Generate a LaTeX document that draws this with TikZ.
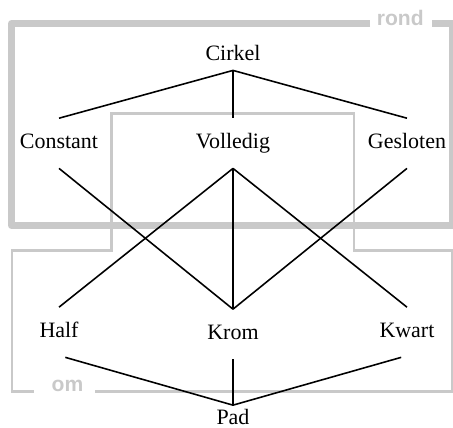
\documentclass[tikz,border=0pt]{standalone}
\usepackage{fontspec}
\setmainfont{Liberation Serif}
\newfontfamily\tagfont{Liberation Sans}
\usetikzlibrary{positioning}
\definecolor{rimgray}{gray}{0.79}

\begin{document}
\begin{tikzpicture}[
	x=0.02cm, y=-0.02cm,
	term/.style={
		font=\fontsize{12.5}{15}\selectfont,
		text height=0.29cm,
		text depth=0.1cm,
		inner xsep=1pt,
		inner ysep=0.3cm
	},
	tight/.style={
		inner ysep=0.1cm
	},
	link/.style={
		draw,
		line width=0.9pt
	},
	thickrim/.style={
		draw=rimgray,
		line width=0.14cm,
		line join=round
	},
	thinrim/.style={
		draw=rimgray,
		line width=0.055cm
	},
	tag/.style={
		font=\tagfont\bfseries\fontsize{12}{14}\selectfont,
		text=rimgray,
		anchor=base,
		inner sep=0pt
	},
	on grid,node distance=1.76cm and 3.48cm
	]
	\useasboundingbox (0,0) rectangle (453,428);
	
	% frames
	\draw[thickrim] (370,23.5) -- (11.5,23.5) -- (11.5,225.5) -- (452,225.5) -- (452,23.5) -- (432,23.5);
	\draw[thinrim] (95,391.7) -- (452.5,391.7) -- (452.5,250.5) -- (354,250.5) -- (354,113.5)
		-- (111.5,113.5) -- (111.5,250.5) -- (12,250.5) -- (12,391.7) -- (34,391.7);
	\node[tag] (rond) at (400.3,26) {rond};
	\node[tag] (om) at (67.5,391.7) {om};
	
	% terms
	\node[term] (volledig) at (233,143.3) {Volledig};
	\node[term,tight,above=of volledig] (cirkel) {Cirkel};
	\node[term,left=of volledig] (constant) {Constant};
	\node[term,right=of volledig] (gesloten) {Gesloten};
	\node[term,below=3.78cm of constant] (half) {Half};
	\node[term,below=3.82cm of volledig] (krom) {Krom};
	\node[term,below=3.78cm of gesloten] (kwart) {Kwart};
	\node[term,tight,below=1.72cm of krom] (pad) {Pad};
	
	\draw[link] (cirkel.south) -- (constant.north);
	\draw[link] (cirkel.south) -- (volledig.north);
	\draw[link] (cirkel.south) -- (gesloten.north);
	
	\draw[link] (volledig.south) -- (half.north);
	\draw[link] (volledig.south) -- (krom.north);
	\draw[link] (volledig.south) -- (kwart.north);
	\draw[link] (constant.south) -- (krom.north);
	\draw[link] (gesloten.south) -- (krom.north);
	
	\draw[link] (half.-76) -- (pad.north);
	\draw[link] (krom.south) -- (pad.north);
	\draw[link] (kwart.-103) -- (pad.north);
\end{tikzpicture}
\end{document}
